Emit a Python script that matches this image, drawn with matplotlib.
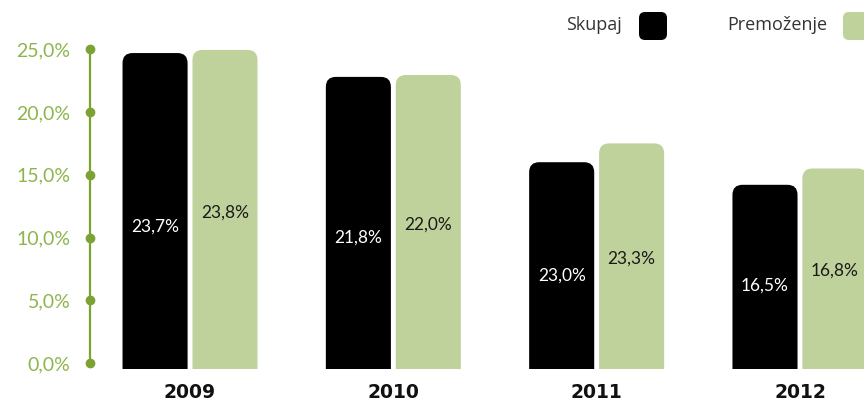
import numpy as np
import matplotlib.pyplot as plt
from matplotlib.patches import FancyBboxPatch
from matplotlib.transforms import blended_transform_factory

# podatki
leta = ["2009", "2010", "2011", "2012"]
skupaj = [24.7, 22.8, 16.0, 14.2]
premozenje = [24.95, 22.95, 17.5, 15.5]
oznake_skupaj = ["23,7%", "21,8%", "23,0%", "16,5%"]
oznake_premozenje = ["23,8%", "22,0%", "23,3%", "16,8%"]
y_ticks = [0, 5, 10, 15, 20, 25]
y_labels = ["0,0%", "5,0%", "10,0%", "15,0%", "20,0%", "25,0%"]

CRNA = "#000000"
ZELENA = "#c0d29b"
OS_ZELENA = "#7ba232"
TXT_ZELENA = "#8cb64c"

fig = plt.figure(figsize=(8.64, 4.01), dpi=100)
ax = fig.add_axes([90 / 864, 32 / 401, 1 - 90 / 864, 329 / 401])

ax.set_xlim(-0.492, 3.315)
ax.set_ylim(-0.48, 25.74)

sirina = 0.32
zamik = 0.172
dno = -3.0

# razmerje za zaobljene vogale
fig.canvas.draw()
px_x = np.diff(ax.transData.inverted().transform([(0, 0), (1, 0)])[:, 0])[0]
px_y = np.diff(ax.transData.inverted().transform([(0, 0), (0, 1)])[:, 1])[0]
aspekt = abs(px_y / px_x)
r = 10 * abs(px_x)


def zaobljen_stolpec(x, h, barva):
    p = FancyBboxPatch((x - sirina / 2, dno), sirina, h - dno,
                       boxstyle=f"round,pad=0,rounding_size={r}",
                       mutation_aspect=aspekt, facecolor=barva,
                       edgecolor="none")
    ax.add_patch(p)


x = np.arange(len(leta))
for i in range(len(leta)):
    zaobljen_stolpec(x[i] - zamik, skupaj[i], CRNA)
    zaobljen_stolpec(x[i] + zamik, premozenje[i], ZELENA)
    ax.text(x[i] - zamik, -0.48 + (skupaj[i] + 0.48) * 0.45, oznake_skupaj[i],
            color="white", ha="center", va="center", fontsize=12.5,
            family="Lato")
    ax.text(x[i] + zamik, -0.48 + (premozenje[i] + 0.48) * 0.49,
            oznake_premozenje[i], color="#1a1a1a", ha="center", va="center",
            fontsize=12.5, family="Lato")

for s in ["top", "right", "bottom"]:
    ax.spines[s].set_visible(False)
ax.spines["left"].set_color(OS_ZELENA)
ax.spines["left"].set_linewidth(1.6)
ax.spines["left"].set_bounds(0, 25)

trans = blended_transform_factory(ax.transAxes, ax.transData)
ax.plot([0] * len(y_ticks), y_ticks, "o", color=OS_ZELENA, markersize=6,
        transform=trans, clip_on=False, zorder=5)

ax.set_yticks(y_ticks)
ax.set_yticklabels(y_labels, color=TXT_ZELENA, fontsize=14, family="Lato")
ax.tick_params(axis="y", length=0, pad=14)

ax.set_xticks(x)
ax.set_xticklabels(leta, fontsize=13.5, fontweight="bold", color="#111111")
ax.tick_params(axis="x", length=0, pad=10)

# legenda
fig.text(622 / 864, 1 - 25 / 401, "Skupaj", ha="right", va="center",
         fontsize=13, color="#333333", family="Open Sans")
fig.text(827 / 864, 1 - 25 / 401, "Premoženje", ha="right", va="center",
         fontsize=13, color="#333333", family="Open Sans")
for lx, barva in [(639, CRNA), (843, ZELENA)]:
    kv = FancyBboxPatch((lx / 864, 1 - 40 / 401), 28 / 864, 28 / 401,
                        boxstyle=f"round,pad=0,rounding_size={6 / 864}",
                        mutation_aspect=864 / 401, facecolor=barva,
                        edgecolor="none", transform=fig.transFigure)
    fig.patches.append(kv)

fig.savefig("out.png", dpi=100)
